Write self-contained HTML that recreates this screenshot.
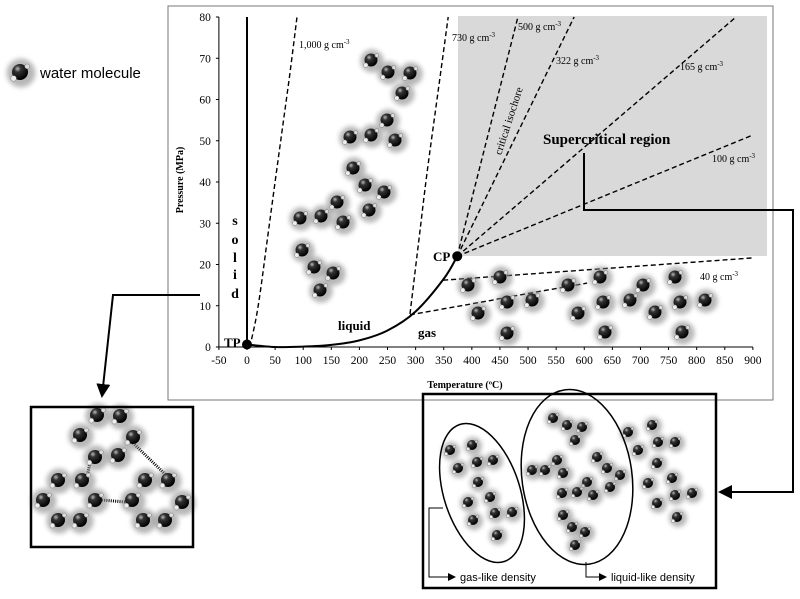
<!DOCTYPE html>
<html><head><meta charset="utf-8"><style>
html,body{margin:0;padding:0;background:#fff;width:800px;height:599px;overflow:hidden}
svg text{font-family:"Liberation Serif",serif}
</style></head><body>
<svg id="s" width="800" height="599" viewBox="0 0 800 599" xmlns="http://www.w3.org/2000/svg">
<defs>
<radialGradient id="ball" cx="0.35" cy="0.3" r="0.7"><stop offset="0" stop-color="#bbb"/><stop offset="0.3" stop-color="#333"/><stop offset="1" stop-color="#000"/></radialGradient>
<filter id="blur" x="-50%" y="-50%" width="200%" height="200%"><feGaussianBlur stdDeviation="2.5"/></filter>
<marker id="arr" markerWidth="8" markerHeight="8" refX="7" refY="4" orient="auto" markerUnits="userSpaceOnUse"><path d="M0,0 L8,4 L0,8 z" fill="#000"/></marker>
<marker id="arr2" markerWidth="14" markerHeight="14" refX="12" refY="7" orient="auto" markerUnits="userSpaceOnUse"><path d="M0,0 L14,7 L0,14 z" fill="#000"/></marker>
</defs>
<rect x="168" y="6" width="605" height="394" fill="#fff" stroke="#777" stroke-width="1"/>
<rect x="458" y="16" width="309" height="240" fill="#d9d9d9"/>
<g id="axes"></g>
<g id="curves"></g>
<g id="mols"></g>
<g id="labels">
<text x="183" y="180" font-size="10" font-weight="bold" text-anchor="middle" transform="rotate(-90 183 180)">Pressure (MPa)</text>
<text x="465" y="388" font-size="10" font-weight="bold" text-anchor="middle">Temperature (ºC)</text>
<g font-size="14" font-weight="bold" text-anchor="middle">
<text x="235" y="225">s</text><text x="235" y="244">o</text><text x="235" y="262">l</text><text x="235" y="279">i</text><text x="235" y="298">d</text></g>
<text x="224" y="347" font-size="13" font-weight="bold">TP</text>
<text x="433" y="261" font-size="13" font-weight="bold">CP</text>
<text x="338" y="330" font-size="13" font-weight="bold">liquid</text>
<text x="418" y="337" font-size="13" font-weight="bold">gas</text>
<text x="543" y="144" font-size="15" font-weight="bold">Supercritical region</text>
<g font-size="10">
<text x="299" y="48">1,000 g cm<tspan font-size="7" dy="-4">-3</tspan></text>
<text x="452" y="41">730 g cm<tspan font-size="7" dy="-4">-3</tspan></text>
<text x="518" y="30">500 g cm<tspan font-size="7" dy="-4">-3</tspan></text>
<text x="556" y="64">322 g cm<tspan font-size="7" dy="-4">-3</tspan></text>
<text x="680" y="70">165 g cm<tspan font-size="7" dy="-4">-3</tspan></text>
<text x="712" y="162">100 g cm<tspan font-size="7" dy="-4">-3</tspan></text>
<text x="700" y="280">40 g cm<tspan font-size="7" dy="-4">-3</tspan></text>
</g>
<text x="0" y="0" font-size="11" text-anchor="middle" transform="translate(512,122) rotate(-72)">critical isochore</text>
<text x="40" y="78" font-size="15" style="font-family:'Liberation Sans',sans-serif">water molecule</text>
</g>
<polyline points="200,295 113,295 102,396" fill="none" stroke="#000" stroke-width="2" marker-end="url(#arr2)"/>
<polyline points="584,153 584,210 793,210 793,492 720,492" fill="none" stroke="#000" stroke-width="2" marker-end="url(#arr2)"/>
<rect x="31" y="407" width="162" height="140" fill="none" stroke="#000" stroke-width="2.5"/>
<rect x="423" y="394" width="293" height="194" fill="none" stroke="#000" stroke-width="2.5"/>
<ellipse cx="482" cy="493" rx="38" ry="72" transform="rotate(-18 482 493)" fill="none" stroke="#000" stroke-width="1.5"/>
<ellipse cx="577" cy="477" rx="55" ry="88" transform="rotate(-8 577 477)" fill="none" stroke="#000" stroke-width="1.5"/>
<polyline points="443,508 429,508 429,577 455,577" fill="none" stroke="#000" stroke-width="1" marker-end="url(#arr)"/>
<polyline points="586,562 586,577 606,577" fill="none" stroke="#000" stroke-width="1" marker-end="url(#arr)"/>
<text x="460" y="581" font-size="11" style="font-family:'Liberation Sans',sans-serif">gas-like density</text>
<text x="611" y="581" font-size="11" style="font-family:'Liberation Sans',sans-serif">liquid-like density</text>
</svg>
<script>
const NS="http://www.w3.org/2000/svg";
const xTicks=[-50,0,50,100,150,200,250,300,350,400,450,500,550,600,650,700,750,800,850,900];
const yTicks=[0,10,20,30,40,50,60,70,80];
const vaporT=[0.01,50,100,150,200,250,300,350,374];
const vaporP=[0.6,0.01,0.1,0.5,1.6,4,8.6,16.5,22];
const iso1000T=[5,20,40,60,75,89];
const iso1000P=[0,10,30,50,65,80];
const iso730T=[290,305,320,340,358];
const iso730P=[8,25,42,62,80];
const iso500T=[374,482]; const iso500P=[22,80];
const iso322T=[374,582]; const iso322P=[22,80];
const iso165T=[374,870]; const iso165P=[22,80];
const iso100T=[374,900]; const iso100P=[22,51.4];
const iso40T=[349,900]; const iso40P=[16.2,21.6];
const lowT=[290,418,460,605]; const lowP=[7.8,10.9,12,15.5];
function X(t){return 247+t*0.5621;}
function Y(p){return 347-p*4.125;}
function mk(tag,attrs,parent,name){const e=document.createElementNS(NS,tag);for(const k in attrs)e.setAttribute(k,attrs[k]);


parent.appendChild(e);return e;}
const ax=document.getElementById('axes');
mk('line',{x1:X(-50),y1:Y(0),x2:X(-50),y2:Y(80),stroke:'#000','stroke-width':1},ax,'y-axis');
mk('line',{x1:X(-50),y1:Y(0),x2:X(900),y2:Y(0),stroke:'#000','stroke-width':1},ax,'x-axis');
xTicks.forEach(t=>{mk('line',{x1:X(t),y1:Y(0),x2:X(t),y2:Y(0)+3,stroke:'#000'},ax,'x-tick');
const tx=mk('text',{x:X(t),y:Y(0)+17,'font-size':11.5,'text-anchor':'middle'},ax,'x-tick-label');tx.textContent=t;});
yTicks.forEach(p=>{mk('line',{x1:X(-50)-3,y1:Y(p),x2:X(-50),y2:Y(p),stroke:'#000'},ax,'y-tick');
const tx=mk('text',{x:X(-50)-8,y:Y(p)+4,'font-size':11.5,'text-anchor':'end'},ax,'y-tick-label');tx.textContent=p;});
const cv=document.getElementById('curves');
function path(T,P,dash,w,name){
const pts=T.map((t,i)=>[X(t),Y(P[i])]);
let d='M'+pts[0][0].toFixed(1)+','+pts[0][1].toFixed(1);
for(let i=0;i<pts.length-1;i++){const p0=pts[Math.max(0,i-1)],p1=pts[i],p2=pts[i+1],p3=pts[Math.min(pts.length-1,i+2)];
const c1=[p1[0]+(p2[0]-p0[0])/6,p1[1]+(p2[1]-p0[1])/6],c2=[p2[0]-(p3[0]-p1[0])/6,p2[1]-(p3[1]-p1[1])/6];
d+='C'+c1[0].toFixed(1)+','+c1[1].toFixed(1)+' '+c2[0].toFixed(1)+','+c2[1].toFixed(1)+' '+p2[0].toFixed(1)+','+p2[1].toFixed(1);}
mk('path',{d:d,fill:'none',stroke:'#000','stroke-width':w,'stroke-dasharray':dash?'5,3':'none'},cv,name);}
mk('line',{x1:X(0),y1:Y(0),x2:X(0),y2:Y(80),stroke:'#000','stroke-width':2},cv,'melting-line');
path(vaporT,vaporP,false,2,'vapor-curve');
path(iso1000T,iso1000P,true,1.4,'isochore-1000');
path(iso730T,iso730P,true,1.4,'isochore-730');
path(iso500T,iso500P,true,1.4,'isochore-500');
path(iso322T,iso322P,true,1.4,'isochore-322');
path(iso165T,iso165P,true,1.4,'isochore-165');
path(iso100T,iso100P,true,1.4,'isochore-100');
path(iso40T,iso40P,true,1.4,'isochore-40');
path(lowT,lowP,true,1.4,'isochore-low');
mk('circle',{cx:X(0.01),cy:Y(0.6),r:5,fill:'#000'},cv,'triple-point');
mk('circle',{cx:X(374),cy:Y(22),r:5,fill:'#000'},cv,'critical-point');
[[133,443,168,477],[90,463,87,477],[102,500,125,502]].forEach(b=>{mk('line',{x1:b[0],y1:b[1],x2:b[2],y2:b[3],stroke:'#000','stroke-width':3,'stroke-dasharray':'1,1.2'},cv,'hydrogen-bond');});
const mg=document.getElementById('mols');
function mol(x,y,r,name){const g=mk('g',{},mg,name);
mk('circle',{cx:x+1,cy:y+1,r:r*1.8,fill:'#888',opacity:0.6,filter:'url(#blur)'},g,'molecule-shadow');
mk('circle',{cx:x,cy:y,r:r,fill:'url(#ball)'},g,'oxygen-atom');
mk('circle',{cx:x-r*0.8,cy:y+r*0.8,r:r*0.35,fill:'#eee',stroke:'#777','stroke-width':0.5},g,'hydrogen-atom');
mk('circle',{cx:x+r*0.9,cy:y-r*0.7,r:r*0.3,fill:'#ddd',stroke:'#777','stroke-width':0.5},g,'hydrogen-atom');}
mol(20,72,8,'legend-molecule');
[[371,60],[388,72],[410,73],[402,93],[387,120],[395,140],[350,137],[371,135],[353,168],[365,185],[384,192],[369,210],[343,222],[337,202],[321,216],[300,218],[302,250],[314,267],[333,273],[320,290]].forEach(p=>mol(p[0],p[1],6.5,'liquid-molecule'));
[[468,285],[500,277],[478,313],[507,302],[532,300],[507,333],[568,285],[600,277],[578,313],[603,302],[630,300],[605,332],[643,285],[675,277],[655,312],[680,302],[705,300],[682,332]].forEach(p=>mol(p[0],p[1],6.5,'gas-molecule'));
[[97,415],[120,416],[133,437],[118,455],[95,457],[80,435],[58,480],[82,480],[95,500],[80,520],[58,520],[43,500],[145,480],[168,480],[182,502],[165,520],[143,520],[132,500]].forEach(p=>mol(p[0],p[1],7,'ice-molecule'));
[[450,450],[472,445],[477,462],[493,460],[458,468],[478,482],[490,497],[468,502],[473,520],[495,513],[512,512],[497,535],
[553,418],[567,425],[582,427],[575,440],[557,460],[532,470],[545,470],[563,473],[587,482],[597,457],[607,468],[620,475],[610,487],[593,495],[562,493],[577,492],[563,515],[572,527],[585,532],[575,545],
[628,432],[652,425],[638,450],[658,442],[675,442],[657,463],[672,478],[648,483],[675,495],[692,493],[657,503],[677,517]].forEach(p=>mol(p[0],p[1],5,'supercritical-molecule'));
</script>
</body></html>
